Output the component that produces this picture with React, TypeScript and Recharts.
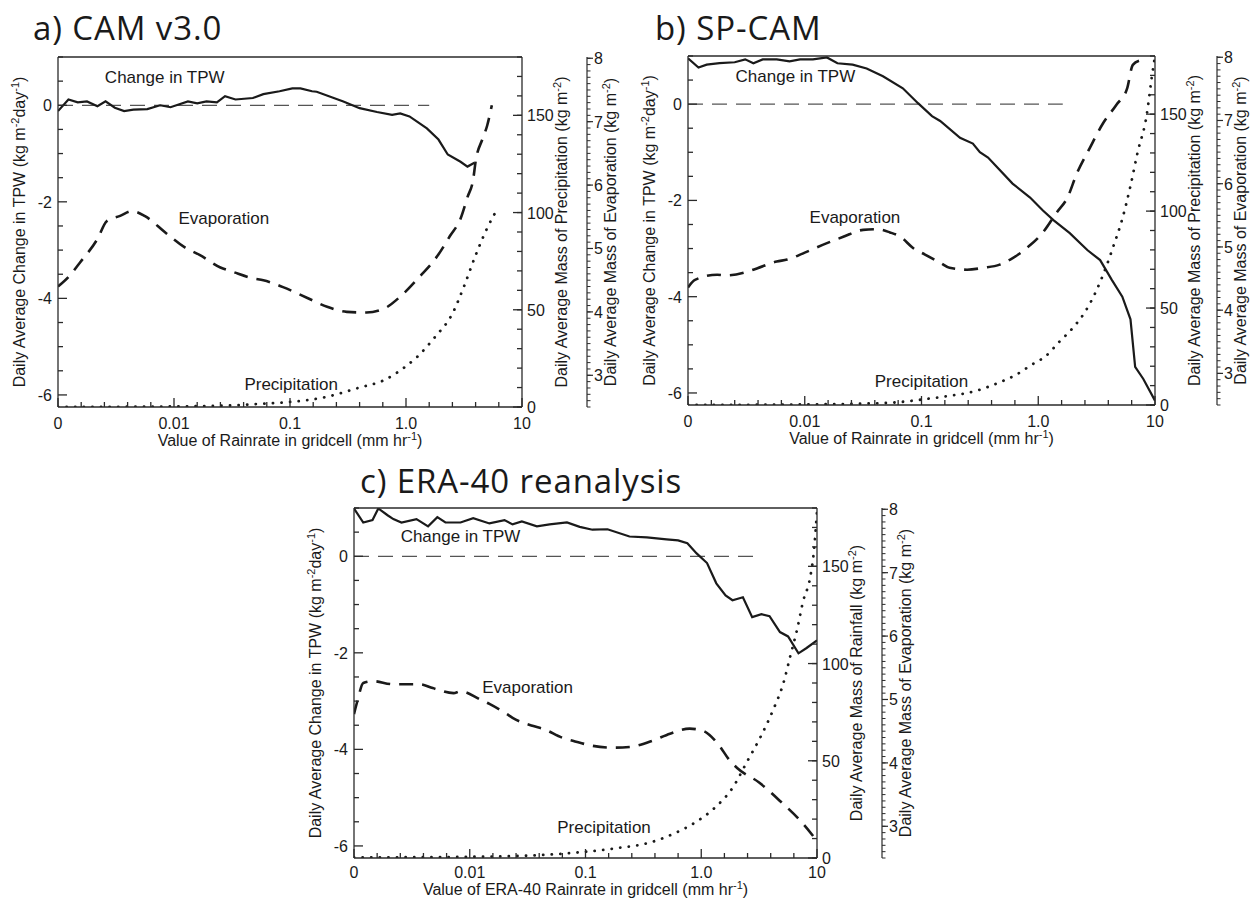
import { ComposedChart, Line, XAxis, YAxis, ReferenceDot } from "recharts";

const FONT = '"Liberation Sans", Arial, Helvetica, sans-serif';
const TITLE_FONT = '"Open Sans", "Noto Sans", sans-serif';
const INK = "#1a1a1a";
const AXIS = "#2a2a2a";

type Pt = [number, number];

// x values are log10 of rainrate (mm/hr); the "0" bin sits at -3
const rateMajor = [-3, -2, -1, 0, 1];
const rateLabels = ["0", "0.01", "0.1", "1.0", "10"];
const tpwLabeled = [-6, -4, -2, 0];
const precipLabeled = [0, 50, 100, 150];
const evapLabeled = [3, 4, 5, 6, 7, 8];

function range(a: number, b: number, step: number) {
  const out: number[] = [];
  for (let v = a; v <= b + 1e-9; v += step) out.push(Math.round(v * 100) / 100);
  return out;
}
const rateTicks = range(-3, 1, 0.2);
const tpwTicks = range(-6, 1, 0.5);
const precipTicks = range(0, 180, 10);
const evapTicks = range(2.5, 8, 0.1);

// a) CAM v3.0
const camTpw: Pt[] = [[-3.0,-0.12],[-2.91,0.12],[-2.83,0.06],[-2.75,0.08],[-2.66,-0.02],[-2.59,0.08],[-2.51,-0.05],[-2.43,-0.12],[-2.35,-0.09],[-2.23,-0.08],[-2.12,0.0],[-2.03,-0.04],[-1.88,0.08],[-1.8,0.04],[-1.72,0.08],[-1.63,0.06],[-1.56,0.19],[-1.47,0.12],[-1.32,0.15],[-1.23,0.23],[-1.09,0.29],[-0.98,0.35],[-0.91,0.35],[-0.81,0.29],[-0.77,0.28],[-0.54,0.08],[-0.4,-0.06],[-0.25,-0.14],[-0.12,-0.2],[-0.05,-0.17],[0.03,-0.23],[0.18,-0.48],[0.28,-0.71],[0.36,-1.02],[0.47,-1.17],[0.53,-1.27],[0.59,-1.19]];
const camEvap: Pt[] = [[-3.0,4.4],[-2.91,4.55],[-2.81,4.78],[-2.66,5.15],[-2.58,5.43],[-2.47,5.51],[-2.36,5.59],[-2.25,5.51],[-2.08,5.26],[-1.91,5.02],[-1.78,4.9],[-1.6,4.7],[-1.49,4.63],[-1.32,4.53],[-1.23,4.5],[-1.06,4.39],[-0.85,4.22],[-0.68,4.08],[-0.51,4.0],[-0.34,3.99],[-0.19,4.05],[-0.05,4.24],[0.12,4.56],[0.27,4.88],[0.38,5.2],[0.47,5.47],[0.53,5.81],[0.58,6.1],[0.6,6.37],[0.66,6.73],[0.7,6.94],[0.74,7.26]];
const camPrecip: Pt[] = [[-3,0],[-2.5,0.1],[-2,0.3],[-1.5,0.8],[-1.3,1.5],[-1.0,2.6],[-0.7,5],[-0.4,10],[-0.2,13.5],[0,21],[0.1,26],[0.25,36],[0.4,48],[0.5,62],[0.6,78],[0.7,92],[0.77,100]];
const camZero: Pt[] = [[-3,0],[0.2,0]];

// b) SP-CAM
const spTpw: Pt[] = [[-3.0,0.95],[-2.91,0.76],[-2.84,0.82],[-2.73,0.85],[-2.6,0.87],[-2.51,0.93],[-2.44,0.85],[-2.36,0.93],[-2.24,0.93],[-2.13,0.89],[-2.04,0.93],[-1.93,0.93],[-1.81,0.97],[-1.72,0.85],[-1.59,0.82],[-1.47,0.74],[-1.33,0.58],[-1.16,0.33],[-1.03,0.02],[-0.91,-0.25],[-0.84,-0.35],[-0.67,-0.7],[-0.56,-0.82],[-0.5,-1.0],[-0.43,-1.11],[-0.22,-1.65],[-0.07,-1.94],[0.04,-2.21],[0.13,-2.41],[0.27,-2.68],[0.42,-3.03],[0.53,-3.24],[0.63,-3.65],[0.72,-4.0],[0.79,-4.47],[0.83,-5.46],[0.9,-5.71],[1.0,-6.16]];
const spEvap: Pt[] = [[-3.0,4.36],[-2.94,4.48],[-2.75,4.56],[-2.67,4.55],[-2.49,4.61],[-2.41,4.66],[-2.24,4.77],[-2.15,4.8],[-2.0,4.91],[-1.81,5.06],[-1.67,5.16],[-1.5,5.27],[-1.38,5.28],[-1.27,5.23],[-1.18,5.16],[-1.07,4.98],[-0.97,4.88],[-0.84,4.75],[-0.76,4.67],[-0.61,4.64],[-0.47,4.67],[-0.33,4.72],[-0.24,4.8],[-0.1,4.98],[0.04,5.23],[0.16,5.55],[0.25,5.78],[0.33,6.16],[0.44,6.56],[0.55,6.94],[0.67,7.25],[0.76,7.5],[0.81,7.88],[0.87,7.95]];
const spPrecip: Pt[] = [[-3,0],[-2.5,0.1],[-2,0.3],[-1.5,0.7],[-1.23,1.3],[-1.0,2.8],[-0.8,4.4],[-0.52,7.5],[-0.34,11.5],[-0.19,15.6],[-0.05,21],[0.06,25],[0.18,32.6],[0.3,40],[0.4,48],[0.49,58],[0.58,71],[0.65,83],[0.72,96],[0.79,113],[0.85,130],[0.93,150],[0.97,168],[1.0,180]];
const spZero: Pt[] = [[-3,0],[0.21,0]];

// c) ERA-40 reanalysis
const eraTpw: Pt[] = [[-3.0,0.99],[-2.92,0.7],[-2.84,0.75],[-2.79,0.99],[-2.71,0.85],[-2.66,0.77],[-2.59,0.7],[-2.46,0.77],[-2.36,0.62],[-2.28,0.81],[-2.21,0.7],[-2.08,0.7],[-1.97,0.79],[-1.83,0.68],[-1.7,0.75],[-1.63,0.66],[-1.55,0.72],[-1.42,0.62],[-1.31,0.66],[-1.16,0.7],[-1.05,0.61],[-0.94,0.55],[-0.81,0.56],[-0.62,0.41],[-0.47,0.39],[-0.3,0.35],[-0.2,0.33],[-0.12,0.27],[-0.04,0.06],[0.05,-0.14],[0.13,-0.56],[0.21,-0.81],[0.27,-0.91],[0.36,-0.85],[0.44,-1.26],[0.52,-1.2],[0.59,-1.24],[0.68,-1.57],[0.75,-1.66],[0.84,-2.01],[0.91,-1.9],[1.0,-1.74]];
const eraEvap: Pt[] = [[-3.0,4.77],[-2.97,4.98],[-2.92,5.26],[-2.84,5.29],[-2.66,5.24],[-2.43,5.24],[-2.32,5.18],[-2.14,5.1],[-2.08,5.13],[-1.91,5.0],[-1.83,4.93],[-1.68,4.77],[-1.63,4.71],[-1.45,4.58],[-1.37,4.54],[-1.19,4.39],[-1.11,4.35],[-0.94,4.27],[-0.76,4.24],[-0.62,4.25],[-0.42,4.35],[-0.27,4.46],[-0.1,4.54],[0.01,4.51],[0.14,4.31],[0.25,4.03],[0.31,3.92],[0.5,3.69],[0.68,3.4],[0.87,3.06],[1.0,2.77]];
const eraPrecip: Pt[] = [[-3,0.3],[-2.5,0.4],[-2,0.6],[-1.5,1.2],[-1.04,3],[-0.74,5],[-0.44,8],[-0.22,13],[-0.06,18],[0.12,26],[0.27,36],[0.4,50],[0.51,62],[0.62,76],[0.71,90],[0.77,104],[0.83,118],[0.88,132],[0.94,144],[0.97,156],[1.0,178]];
const eraZero: Pt[] = [[-3,0],[0.45,0]];

type Note = { text: string; x: number; y: number };
const camNotes: Note[] = [
  { text: "Change in TPW", x: -2.08, y: 0.58 },
  { text: "Evaporation", x: -1.57, y: -2.33 },
  { text: "Precipitation", x: -0.99, y: -5.77 },
];
const spNotes: Note[] = [
  { text: "Change in TPW", x: -2.08, y: 0.58 },
  { text: "Evaporation", x: -1.57, y: -2.35 },
  { text: "Precipitation", x: -1.0, y: -5.75 },
];
const eraNotes: Note[] = [
  { text: "Change in TPW", x: -2.08, y: 0.43 },
  { text: "Evaporation", x: -1.5, y: -2.71 },
  { text: "Precipitation", x: -0.84, y: -5.61 },
];

const toRows = (pts: Pt[]) => pts.map(([x, v]) => ({ x, v }));
const idx = (arr: number[], v: number) => arr.findIndex((a) => Math.abs(a - v) < 1e-6);

function BottomTick({ x, y, payload, dy }: any) {
  const i = idx(rateMajor, payload.value);
  return (
    <g>
      <line x1={x} x2={x} y1={y} y2={y - (i >= 0 ? 9 : 5)} stroke={AXIS} strokeWidth={1.3} />
      {i >= 0 && (
        <text x={x} y={y + dy} textAnchor="middle" fontSize={16} fontFamily={FONT} fill={INK}>
          {rateLabels[i]}
        </text>
      )}
    </g>
  );
}

function LeftTick({ x, y, payload }: any) {
  const i = idx(tpwLabeled, payload.value);
  return (
    <g>
      <line x1={x} x2={x + (i >= 0 ? 9 : 5)} y1={y} y2={y} stroke={AXIS} strokeWidth={1.3} />
      {i >= 0 && (
        <text x={x - 6} y={y + 6} textAnchor="end" fontSize={16} fontFamily={FONT} fill={INK}>
          {payload.value}
        </text>
      )}
    </g>
  );
}

function PrecipTick({ x, y, payload }: any) {
  const i = idx(precipLabeled, payload.value);
  if (i < 0) return <g />;
  return (
    <g>
      <line x1={x} x2={x - 9} y1={y} y2={y} stroke={AXIS} strokeWidth={1.3} />
      <text x={x + 5} y={y + 6} textAnchor="start" fontSize={16} fontFamily={FONT} fill={INK}>
        {payload.value}
      </text>
    </g>
  );
}

function EvapTick({ x, y, payload }: any) {
  const i = idx(evapLabeled, payload.value);
  if (i < 0) return <g />;
  return (
    <g>
      <line x1={x} x2={x + 6} y1={y} y2={y} stroke={AXIS} strokeWidth={1.2} />
      <text x={x + 7} y={y + 6} textAnchor="start" fontSize={16} fontFamily={FONT} fill={INK}>
        {payload.value}
      </text>
    </g>
  );
}

// rotated axis title; parts alternate normal text / superscript
function RotTitle({ cx, cy, parts }: { cx: number; cy: number; parts: string[] }) {
  return (
    <text x={cx} y={cy} transform={`rotate(-90 ${cx} ${cy})`} textAnchor="middle" dy={6} fontSize={16} fontFamily={FONT} fill={INK}>
      {parts.map((p, k) =>
        k % 2 === 1 ? (
          <tspan key={k} dy={-6} fontSize={11}>{p}</tspan>
        ) : (
          <tspan key={k} dy={k === 0 ? 0 : 6}>{p}</tspan>
        )
      )}
    </text>
  );
}

type PanelProps = {
  left: number; top: number; width: number; height: number;
  leftW: number; marginTop: number; bottomH: number; wp: number; we: number;
  labelDy: number; titleDy: number;
  tpw: Pt[]; evap: Pt[]; precip: Pt[]; zero: Pt[]; notes: Note[];
  precipName: string; xName: string;
};

function Panel(p: PanelProps) {
  return (
    <div style={{ position: "absolute", left: p.left, top: p.top }}>
      <ComposedChart width={p.width} height={p.height} margin={{ top: p.marginTop - 1, right: 0, bottom: 0, left: 0 }}>
        <XAxis
          xAxisId="b1"
          dataKey="x"
          type="number"
          domain={[-3, 1]}
          allowDataOverflow
          ticks={rateTicks}
          interval={0}
          tickLine={false}
          tickSize={0}
          tickMargin={0}
          height={p.bottomH}
          axisLine={{ stroke: AXIS, strokeWidth: 1.3 }}
          tick={(t: any) => <BottomTick {...t} dy={p.labelDy} />}
          label={(l: any) => {
            const vb = l.viewBox;
            return (
              <text x={vb.x + vb.width / 2} y={vb.y + p.titleDy} textAnchor="middle" fontSize={16} fontFamily={FONT} fill={INK}>
                <tspan>{p.xName} (mm hr</tspan>
                <tspan dy={-6} fontSize={11}>-1</tspan>
                <tspan dy={6}>)</tspan>
              </text>
            );
          }}
        />
        <XAxis
          xAxisId="t1"
          orientation="top"
          dataKey="x"
          type="number"
          domain={[-3, 1]}
          allowDataOverflow
          ticks={rateTicks}
          interval={0}
          tickLine={{ stroke: AXIS, strokeWidth: 1.3 }}
          tickSize={-5}
          height={1}
          axisLine={{ stroke: AXIS, strokeWidth: 1.3 }}
          tick={false}
        />
        <YAxis
          yAxisId="a1Tpw"
          orientation="left"
          type="number"
          width={p.leftW}
          domain={[-6.25, 1]}
          allowDataOverflow
          ticks={tpwTicks}
          interval={0}
          tickLine={false}
          tickSize={0}
          tickMargin={0}
          axisLine={{ stroke: AXIS, strokeWidth: 1.3 }}
          tick={(t: any) => <LeftTick {...t} />}
          label={(l: any) => {
            const vb = l.viewBox;
            return <RotTitle cx={vb.x + vb.width - 33} cy={vb.y + vb.height / 2} parts={["Daily Average Change in TPW (kg m", "-2", "day", "-1", ")"]} />;
          }}
        />
        <YAxis
          yAxisId="r1Precip"
          orientation="right"
          type="number"
          width={p.wp}
          domain={[0, 180]}
          allowDataOverflow
          ticks={precipTicks}
          interval={0}
          tickLine={{ stroke: AXIS, strokeWidth: 1.3 }}
          tickSize={-5}
          tickMargin={5}
          axisLine={{ stroke: AXIS, strokeWidth: 1.3 }}
          tick={(t: any) => <PrecipTick {...t} />}
          label={(l: any) => {
            const vb = l.viewBox;
            return <RotTitle cx={vb.x + 45} cy={vb.y + vb.height / 2} parts={[`Daily Average Mass of ${p.precipName} (kg m`, "-2", ")"]} />;
          }}
        />
        <YAxis
          yAxisId="r2Evap"
          orientation="right"
          type="number"
          width={p.we}
          domain={[2.5, 8.02]}
          allowDataOverflow
          ticks={evapTicks}
          interval={0}
          tickLine={{ stroke: AXIS, strokeWidth: 1 }}
          tickSize={3.5}
          tickMargin={-3.5}
          axisLine={{ stroke: AXIS, strokeWidth: 1.2 }}
          tick={(t: any) => <EvapTick {...t} />}
          label={(l: any) => {
            const vb = l.viewBox;
            return <RotTitle cx={vb.x + 29} cy={vb.y + vb.height / 2} parts={["Daily Average Mass of Evaporation (kg m", "-2", ")"]} />;
          }}
        />
        <Line data={toRows(p.zero)} dataKey="v" xAxisId="t1" yAxisId="a1Tpw" type="linear" stroke="#555" strokeWidth={1.2} strokeDasharray="15 9" dot={false} activeDot={false} isAnimationActive={false} />
        <Line data={toRows(p.precip)} dataKey="v" xAxisId="b1" yAxisId="r1Precip" type="monotone" stroke={INK} strokeWidth={2.8} strokeDasharray="0.1 8.5" strokeLinecap="round" dot={false} activeDot={false} isAnimationActive={false} />
        <Line data={toRows(p.evap)} dataKey="v" xAxisId="b1" yAxisId="r2Evap" type="monotone" stroke={INK} strokeWidth={2.6} strokeDasharray="14 9" dot={false} activeDot={false} isAnimationActive={false} />
        <Line data={toRows(p.tpw)} dataKey="v" xAxisId="b1" yAxisId="a1Tpw" type="linear" stroke={INK} strokeWidth={2.2} dot={false} activeDot={false} isAnimationActive={false} />
        {p.notes.map((n) => (
          <ReferenceDot
            key={n.text}
            x={n.x}
            y={n.y}
            xAxisId="b1"
            yAxisId="a1Tpw"
            r={0}
            stroke="none"
            fill="none"
            ifOverflow="visible"
            label={{ value: n.text, position: "center", fontSize: 17, fontFamily: FONT, fill: INK }}
          />
        ))}
      </ComposedChart>
    </div>
  );
}

export default function App() {
  return (
    <div style={{ position: "absolute", left: 0, top: 0, width: 1252, height: 901, background: "#fff" }}>
      <svg width={1252} height={901} style={{ position: "absolute", left: 0, top: 0 }}>
        <g fontFamily={TITLE_FONT} fontSize={33} letterSpacing={0.9} fill={INK} style={{ whiteSpace: "pre" }}>
          <text x={33} y={40}>a)  CAM v3.0</text>
          <text x={655} y={40}>b)  SP-CAM</text>
          <text x={360} y={493}>c)  ERA-40 reanalysis</text>
        </g>
      </svg>
      <Panel
        left={0} top={45} width={642} height={410}
        leftW={58} marginTop={12} bottomH={48} wp={65} we={55}
        labelDy={22} titleDy={39}
        tpw={camTpw} evap={camEvap} precip={camPrecip} zero={camZero} notes={camNotes}
        precipName="Precipitation" xName="Value of Rainrate in gridcell"
      />
      <Panel
        left={626} top={45} width={626} height={408}
        leftW={62} marginTop={11} bottomH={48} wp={62} we={35}
        labelDy={22} titleDy={39}
        tpw={spTpw} evap={spEvap} precip={spPrecip} zero={spZero} notes={spNotes}
        precipName="Precipitation" xName="Value of Rainrate in gridcell"
      />
      <Panel
        left={292} top={495} width={635} height={406}
        leftW={62} marginTop={13} bottomH={43} wp={65} we={45}
        labelDy={20} titleDy={37}
        tpw={eraTpw} evap={eraEvap} precip={eraPrecip} zero={eraZero} notes={eraNotes}
        precipName="Rainfall" xName="Value of ERA-40 Rainrate in gridcell"
      />
    </div>
  );
}
